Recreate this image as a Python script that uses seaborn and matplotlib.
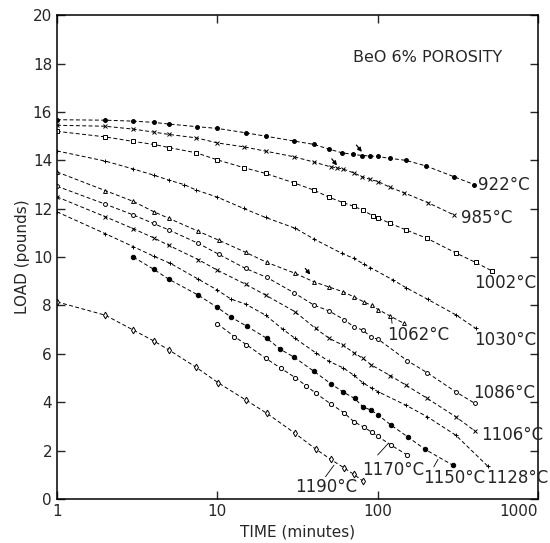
import pandas as pd
import matplotlib
matplotlib.use("Agg")
import matplotlib.pyplot as plt
import seaborn as sns
from matplotlib.ticker import FixedLocator, FixedFormatter, NullLocator

# Creep curves: time (minutes) vs load (pounds)
temps = ["922", "985", "1002", "1030", "1062", "1086", "1106", "1128", "1150", "1170", "1190"]

t_922 = [1, 2, 3, 4, 5, 7.5, 10, 15, 20, 30, 40, 50, 60, 70, 80, 90, 100, 120, 150, 200, 300, 400]
load_922 = [15.68, 15.66, 15.62, 15.57, 15.5, 15.39, 15.32, 15.14, 15.0, 14.8, 14.66, 14.46, 14.31,
            14.25, 14.2, 14.18, 14.16, 14.08, 14.0, 13.77, 13.32, 13.0]

t_985 = [1, 2, 3, 4, 5, 7.4, 10, 14.6, 20, 30, 40, 51, 56, 61, 71, 80, 90, 101, 120, 146, 206, 300]
load_985 = [15.45, 15.41, 15.29, 15.17, 15.07, 14.93, 14.72, 14.56, 14.38, 14.15, 13.93, 13.73, 13.69,
            13.64, 13.48, 13.32, 13.21, 13.12, 12.88, 12.66, 12.25, 11.74]

t_1002 = [1, 2, 3, 4, 5, 7.4, 10, 14.6, 20, 30, 40, 50, 61, 71, 81, 93, 101, 120, 151, 204, 306, 408, 520]
load_1002 = [15.2, 14.97, 14.78, 14.66, 14.53, 14.31, 14.02, 13.7, 13.46, 13.07, 12.77, 12.47, 12.25,
             12.1, 11.94, 11.71, 11.62, 11.39, 11.12, 10.77, 10.18, 9.78, 9.42]

t_1030 = [1, 2, 3, 4, 5, 6.2, 7.4, 10, 14.6, 20, 30.7, 40, 60, 71, 82, 90, 125, 151, 206, 310, 410]
load_1030 = [14.39, 13.97, 13.64, 13.39, 13.18, 13.0, 12.77, 12.48, 12.01, 11.64, 11.19, 10.75, 10.15,
             9.95, 9.71, 9.57, 9.05, 8.73, 8.25, 7.6, 7.05]

t_1062 = [1, 2, 3, 4, 5, 7.6, 10.2, 15, 20.4, 30.6, 40, 49.5, 60.7, 71, 82, 92, 101, 120, 146]
load_1062 = [13.52, 12.75, 12.3, 11.88, 11.6, 11.07, 10.7, 10.2, 9.78, 9.33, 8.98, 8.77, 8.57, 8.36,
             8.15, 8.0, 7.83, 7.56, 7.26]

t_1086 = [1, 2, 3, 4, 5, 7.6, 10.2, 15, 20.4, 30, 40, 49.5, 61.7, 71, 81, 91.5, 101, 153, 204, 307, 405]
load_1086 = [12.93, 12.19, 11.74, 11.39, 11.12, 10.57, 10.12, 9.53, 9.16, 8.53, 8.02, 7.78, 7.42, 7.12,
             6.98, 6.68, 6.6, 5.72, 5.22, 4.43, 3.95]

t_1106 = [1, 2, 3, 4, 5, 7.6, 10, 15, 20, 30.6, 41, 50, 60.7, 71, 81, 91.5, 120, 150, 204, 307, 405]
load_1106 = [12.49, 11.67, 11.17, 10.8, 10.48, 9.9, 9.46, 8.88, 8.43, 7.74, 7.05, 6.64, 6.36, 6.05,
             5.81, 5.54, 5.1, 4.71, 4.16, 3.4, 2.81]

t_1128 = [1, 2, 3, 4, 5.1, 7.6, 10, 12.2, 15, 20, 25.7, 30.6, 41, 49.5, 61, 71, 81, 92.6, 101, 150, 204, 307, 486]
load_1128 = [11.87, 10.97, 10.43, 10.04, 9.74, 9.09, 8.64, 8.26, 8.06, 7.6, 7.01, 6.64, 6.05, 5.7, 5.42,
             5.12, 4.8, 4.57, 4.43, 3.88, 3.4, 2.64, 1.36]

t_1150 = [3, 4, 5, 7.6, 10, 12.1, 15.3, 20.4, 24.7, 30.2, 40, 51, 61, 71.8, 81, 90.6, 101, 121, 154, 198, 294]
load_1150 = [10.0, 9.5, 9.08, 8.43, 7.92, 7.53, 7.14, 6.64, 6.19, 5.86, 5.28, 4.77, 4.42, 4.16, 3.81,
             3.68, 3.47, 3.06, 2.57, 2.05, 1.4]

t_1170 = [10, 12.8, 15.2, 20.1, 25, 30.6, 36, 41, 51, 61.6, 71, 82, 92.6, 100, 121, 153]
load_1170 = [7.25, 6.71, 6.38, 5.81, 5.4, 5.02, 4.67, 4.38, 3.93, 3.57, 3.2, 2.97, 2.75, 2.6, 2.23, 1.82]

t_1190 = [1, 2, 3, 4, 5, 7.4, 10.1, 15, 20.4, 30.6, 41, 51, 61.6, 71, 81]
load_1190 = [8.15, 7.6, 6.98, 6.54, 6.16, 5.44, 4.81, 4.1, 3.54, 2.71, 2.07, 1.64, 1.29, 1.02, 0.74]

times = [t_922, t_985, t_1002, t_1030, t_1062, t_1086, t_1106, t_1128, t_1150, t_1170, t_1190]
loads = [load_922, load_985, load_1002, load_1030, load_1062, load_1086, load_1106, load_1128,
         load_1150, load_1170, load_1190]

# marker, face colour, marker size
styles = {
    "922": ("o", "black", 2.8),
    "985": ("x", "black", 2.8),
    "1002": ("s", "white", 2.6),
    "1030": ("+", "black", 3.2),
    "1062": ("^", "white", 2.8),
    "1086": ("o", "white", 2.8),
    "1106": ("x", "black", 2.8),
    "1128": ("+", "black", 3.2),
    "1150": ("o", "black", 3.2),
    "1170": ("o", "white", 3.0),
    "1190": ("d", "white", 3.4),
}

# label anchor (time, load) for each curve
label_pos = {
    "922": (420, 13.0), "985": (330, 11.6), "1002": (398, 8.93), "1030": (398, 6.57),
    "1062": (115, 6.78), "1086": (392, 4.38), "1106": (440, 2.64), "1128": (473, 0.87),
    "1150": (191, 0.87), "1170": (80.6, 1.2), "1190": (30.7, 0.5),
}

rows = []
for temp, t, l in zip(temps, times, loads):
    for ti, li in zip(t, l):
        rows.append({"temp": temp, "time": ti, "load": li})
df = pd.DataFrame(rows)

sns.set_style("ticks")
plt.rcParams["font.family"] = ["DejaVu Sans"]

fig = plt.figure(figsize=(5.5, 5.43), dpi=100)
ax = fig.add_axes([0.1036, 0.081, 0.8745, 0.891])

for temp in temps:
    sub = df[df["temp"] == temp]
    marker, face, size = styles[temp]
    sns.lineplot(data=sub, x="time", y="load", ax=ax, sort=False, estimator=None,
                 color="black", linestyle=(0, (4, 2.5)), linewidth=0.7,
                 marker=marker, markersize=size, markerfacecolor=face,
                 markeredgecolor="black", markeredgewidth=0.7)
    lx, ly = label_pos[temp]
    ax.text(lx, ly, f"{temp}°C", fontsize=12, ha="left", va="center")

# leader lines from labels to curves
ax.plot([122, 123], [7.47, 7.26], color="black", lw=0.6)
ax.plot([47.3, 53.4], [0.92, 1.40], color="black", lw=0.6)
ax.plot([100, 117], [1.82, 2.31], color="black", lw=0.6)
ax.plot([224, 238], [1.33, 1.64], color="black", lw=0.6)

# small arrows marking points on three curves
arrow_kw = dict(arrowstyle="-|>", color="black", lw=0.9, mutation_scale=6)
ax.annotate("", xy=(81.7, 14.26), xytext=(72, 14.72), arrowprops=arrow_kw)
ax.annotate("", xy=(57.2, 13.7), xytext=(50.5, 14.15), arrowprops=arrow_kw)
ax.annotate("", xy=(39.0, 9.19), xytext=(34.5, 9.62), arrowprops=arrow_kw)

ax.text(0.771, 0.913, "BeO 6% POROSITY", transform=ax.transAxes, fontsize=11.5,
        ha="center", va="center")

ax.set_xscale("log")
ax.set_xlim(1, 1000)
ax.set_ylim(0, 20)
ax.xaxis.set_major_locator(FixedLocator([1, 10, 100, 1000]))
ax.xaxis.set_major_formatter(FixedFormatter(["1", "10", "100", "1000"]))
ax.xaxis.set_minor_locator(NullLocator())
ax.set_yticks(range(0, 21, 2))
ax.tick_params(direction="in", length=6, width=1, top=True, right=True, labelsize=11)
for s in ax.spines.values():
    s.set_linewidth(1.1)
    s.set_color("black")
ax.set_xlabel("TIME (minutes)", fontsize=11)
ax.set_ylabel("LOAD (pounds)", fontsize=11, labelpad=2)

# keep the last x tick label inside the figure, as in the original
fig.canvas.draw()
ax.get_xticklabels()[-1].set_horizontalalignment("right")

fig.savefig("out.png", dpi=100)
